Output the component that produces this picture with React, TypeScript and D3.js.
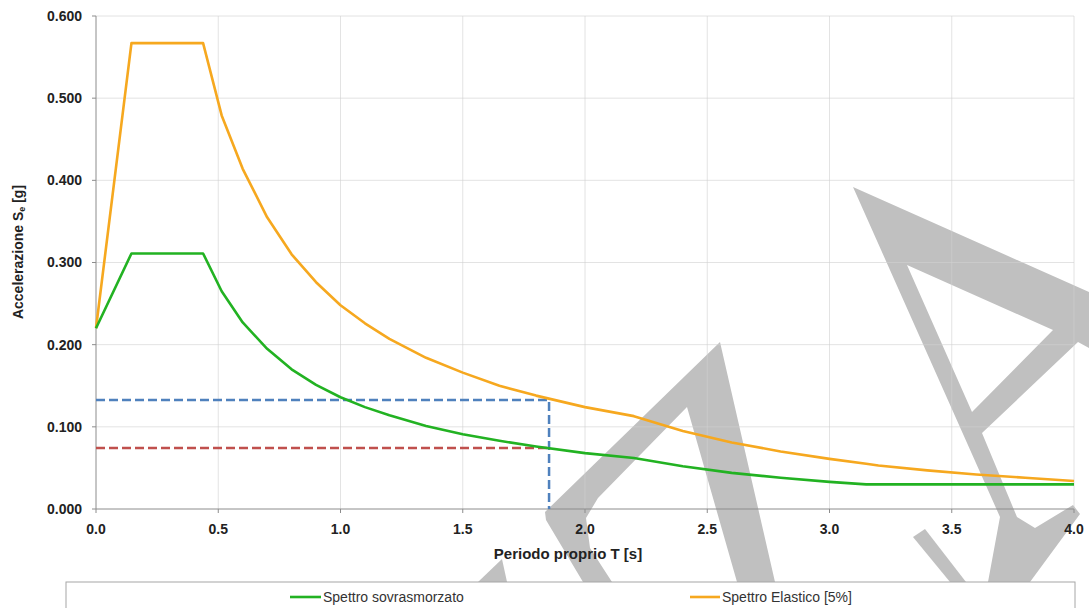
import React from "react";
import * as d3 from "d3";

// ---- data ----
const periods = [0, 0.145, 0.438, 0.514, 0.6, 0.7, 0.8, 0.9, 1.0, 1.1, 1.2, 1.35, 1.5, 1.65, 1.8, 2.0, 2.2, 2.4, 2.6, 2.8, 3.0, 3.15, 3.2, 3.4, 3.6, 3.8, 4.0];
const elastico = [0.22, 0.567, 0.567, 0.479, 0.414, 0.355, 0.31, 0.276, 0.248, 0.226, 0.207, 0.184, 0.166, 0.15, 0.138, 0.124, 0.113, 0.095, 0.081, 0.07, 0.061, 0.055, 0.053, 0.047, 0.042, 0.038, 0.034];
const sovrasmorzato = [0.22, 0.311, 0.311, 0.265, 0.227, 0.195, 0.17, 0.151, 0.136, 0.124, 0.114, 0.101, 0.091, 0.083, 0.076, 0.068, 0.062, 0.052, 0.044, 0.038, 0.033, 0.03, 0.03, 0.03, 0.03, 0.03, 0.03];

const periodoProprio = 1.853;
const seElasticoT1 = 0.1326;
const seSovrT1 = 0.0742;

const yTicks = [0, 0.1, 0.2, 0.3, 0.4, 0.5, 0.6];
const xTicks = [0, 0.5, 1.0, 1.5, 2.0, 2.5, 3.0, 3.5, 4.0];

const seriesNames = ["Spettro sovrasmorzato", "Spettro Elastico [5%]"];
const seriesColors = ["#22b222", "#f6a81f"];

// decorative watermark outlines (not data)
const watermarkPaths = [
  "M720,342 L775,582 L737,582 L687,407 L598,498 L586,518 L590,548 L612,582 L583,582 L546,520 L545,512 Z",
  "M478,582 L502,559 L507,582 Z",
  "M853,187 L1089,292 L1089,348 L1078,342 L982,433 L1017,517 L1035,528 L1073,505 L1080,514 L1030,582 L988,582 L1000,517 Z M907,265 L972,412 L1053,330 Z",
  "M913,537 L925,529 L966,582 L950,582 Z",
];

const FONT = "'Liberation Sans', Arial, Helvetica, sans-serif";

export default function App() {
  const W = 1089, H = 608;
  const x = d3.scaleLinear().domain([0, 4]).range([96, 1074]);
  const y = d3.scaleLinear().domain([0, 0.6]).range([509, 16]);

  const line = d3
    .line<number>()
    .x((_, i) => x(periods[i]))
    .y((d) => y(d));

  const fmtY = d3.format(".3f");
  const fmtX = d3.format(".1f");

  return (
    <svg
      width={W}
      height={H}
      style={{ position: "absolute", left: 0, top: 0, background: "#fff" }}
      fontFamily={FONT}
    >
      <rect x={0} y={0} width={W} height={H} fill="#fff" />
      {/* watermark */}
      <g fill="#c0c0c0" fillRule="evenodd">
        {watermarkPaths.map((p, i) => (
          <path key={i} d={p} />
        ))}
      </g>

      {/* gridlines */}
      <g stroke="#d0d0d0" strokeOpacity={0.6} strokeWidth={1}>
        {yTicks.slice(1).map((t) => (
          <line key={"gy" + t} x1={x(0)} x2={x(4)} y1={y(t)} y2={y(t)} />
        ))}
        {xTicks.slice(1).map((t) => (
          <line key={"gx" + t} x1={x(t)} x2={x(t)} y1={y(0)} y2={y(0.6)} />
        ))}
      </g>

      {/* axes */}
      <g stroke="#8c8c8c" strokeWidth={1}>
        <line x1={x(0)} x2={x(0)} y1={y(0)} y2={y(0.6)} />
        <line x1={x(0)} x2={x(4)} y1={y(0)} y2={y(0)} />
        {yTicks.map((t) => (
          <line key={"ty" + t} x1={x(0) - 4} x2={x(0)} y1={y(t)} y2={y(t)} />
        ))}
        {xTicks.map((t) => (
          <line key={"tx" + t} x1={x(t)} x2={x(t)} y1={y(0)} y2={y(0) + 4} />
        ))}
      </g>

      {/* tick labels */}
      <g fontSize={14} fontWeight="bold" fill="#222">
        {yTicks.map((t) => (
          <text key={"ly" + t} x={82} y={y(t)} dy="0.35em" textAnchor="end">
            {fmtY(t)}
          </text>
        ))}
        {xTicks.map((t) => (
          <text key={"lx" + t} x={x(t)} y={534} textAnchor="middle">
            {fmtX(t)}
          </text>
        ))}
      </g>

      {/* axis titles */}
      <text x={568} y={559} textAnchor="middle" fontSize={15} fontWeight="bold" fill="#222">
        Periodo proprio T [s]
      </text>
      <text
        transform={`translate(23,252) rotate(-90)`}
        textAnchor="middle"
        fontSize={14}
        fontWeight="bold"
        fill="#222"
      >
        Accelerazione S<tspan fontSize={9} dy={2}>e</tspan>
        <tspan dy={-2}> [g]</tspan>
      </text>

      {/* reference dashed lines */}
      <g strokeWidth={2.5} strokeDasharray="9,4" fill="none">
        <path
          d={`M${x(0)},${y(seElasticoT1)} H${x(periodoProprio)} V${y(0)}`}
          stroke="#4f81bd"
        />
        <path d={`M${x(0)},${y(seSovrT1)} H${x(periodoProprio)}`} stroke="#c0504d" />
      </g>

      {/* spectra */}
      <path d={line(elastico) || ""} fill="none" stroke={seriesColors[1]} strokeWidth={2.6} strokeLinejoin="round" />
      <path d={line(sovrasmorzato) || ""} fill="none" stroke={seriesColors[0]} strokeWidth={2.6} strokeLinejoin="round" />

      {/* legend */}
      <rect x={66} y={582} width={1009} height={40} fill="#fff" stroke="#a6a6a6" strokeWidth={1} />
      <g fontSize={14} fill="#333">
        <line x1={290} x2={321} y1={597} y2={597} stroke={seriesColors[0]} strokeWidth={2.6} />
        <text x={323} y={602}>{seriesNames[0]}</text>
        <line x1={690} x2={720} y1={597} y2={597} stroke={seriesColors[1]} strokeWidth={2.6} />
        <text x={722} y={602}>{seriesNames[1]}</text>
      </g>
    </svg>
  );
}
